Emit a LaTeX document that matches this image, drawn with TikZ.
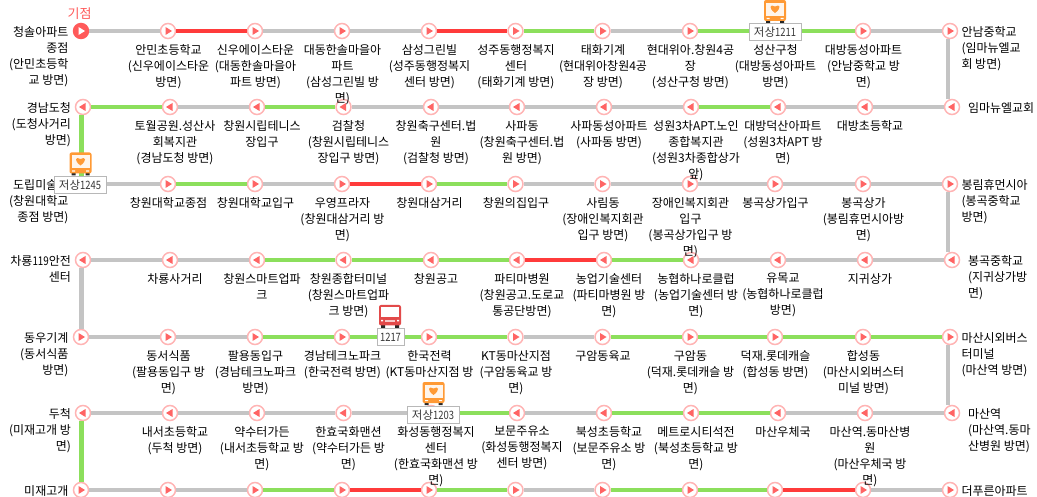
\documentclass[tikz,border=0pt]{standalone}
\usepackage{fontspec}
\setmainfont{Noto Sans CJK KR}
\newfontfamily\narrowdigits[FakeStretch=0.82]{Noto Sans CJK KR}
\definecolor{linegray}{HTML}{C4C4C4}
\definecolor{linered}{HTML}{FF3B3B}
\definecolor{linegreen}{HTML}{8CDF5C}
\definecolor{ringpink}{HTML}{FFB4B4}
\definecolor{tripink}{HTML}{FF6464}
\definecolor{startred}{HTML}{FF5A5A}
\definecolor{busorange}{HTML}{FF9A35}
\definecolor{busred}{HTML}{E24A4A}
\tikzset{
  stopbase/.style={circle,draw=ringpink,fill=white,line width=1.5pt,minimum size=15pt,inner sep=0pt},
  stopfwd/.style={stopbase,path picture={\fill[tripink] (path picture bounding box.center) ++(-2.5,-4) -- ++(0,8) -- ++(6.5,-4) -- cycle;}},
  stopback/.style={stopbase,path picture={\fill[tripink] (path picture bounding box.center) ++(2.5,-4) -- ++(0,8) -- ++(-6.5,-4) -- cycle;}},
  stopfirst/.style={circle,fill=startred,minimum size=16.5pt,inner sep=0pt,path picture={\fill[white] (path picture bounding box.center) ++(-2.5,-4) -- ++(0,8) -- ++(6.5,-4) -- cycle;}},
  seg/.style={line width=4.6pt},
  txt/.style={font=\fontsize{12pt}{16pt}\selectfont,inner sep=0pt,outer sep=0pt,text=black},
  lbl/.style={txt,align=center,anchor=north,yshift=-13.4pt,xshift=0.5pt},
  lble/.style={lbl,xshift=4.5pt},
  lblL/.style={txt,align=right,anchor=north east,yshift=4.6pt,xshift=-12.6pt},
  lblLe/.style={txt,align=right,anchor=north east,yshift=4.6pt,xshift=-12pt},
  lblR/.style={txt,align=left,anchor=north west,yshift=4.6pt,xshift=11.5pt},
  lblRe/.style={txt,align=left,anchor=north west,yshift=4.6pt,xshift=16pt},
  buslabel/.style={draw=black!28,fill=white,line width=1pt,inner sep=0pt,minimum height=17.5pt,text=black!78,font=\fontsize{11.5pt}{13pt}\selectfont},
  orangebus/.pic={
    \fill[black!85] (-9,20) rectangle (-5,23) (5,20) rectangle (9,23);
    \fill[busorange,rounded corners=2pt] (-11,0) rectangle (11,21);
    \fill[white!92!orange] (-9,3) rectangle (9,16);
    \fill[white] (-8.5,18) rectangle (-5.5,19.2) (5.5,18) rectangle (8.5,19.2);
    \fill[busorange] (0,13) .. controls (-7,8) and (-5,3.5) .. (0,6.5) .. controls (5,3.5) and (7,8) .. (0,13) -- cycle;
  },
  redbus/.pic={
    \fill[black!85] (-9,20) rectangle (-5,23) (5,20) rectangle (9,23);
    \fill[busred,rounded corners=2pt] (-11,0) rectangle (11,20.5);
    \fill[white] (-9,2.5) rectangle (9,12);
    \fill[white!70!busred] (-5,15.5) rectangle (5,16.7);
    \fill[white] (-9,15) rectangle (-7,16.5) (7,15) rectangle (9,16.5);
  },
}
\begin{document}
\begin{tikzpicture}[x=1pt,y=-1pt]
\useasboundingbox (0,0) rectangle (1037,497);
% stops
\node[stopfirst] (a1) at (81,31) {};
\foreach \i/\x in {2/168,3/255,4/342,5/429,6/515.5,7/602.5,8/690,9/775,10/863,11/950} \node[stopfwd] (a\i) at (\x,31) {};
\foreach \i/\x in {1/83,2/170,3/257,4/343.5,5/431,6/517,7/604,8/691,9/778,10/865,11/952} \node[stopback] (b\i) at (\x,107) {};
\foreach \i/\x in {1/81,2/168,3/255,4/342,5/429,6/515.5,7/602.5,8/690,9/775,10/863,11/950} \node[stopfwd] (c\i) at (\x,184) {};
\foreach \i/\x in {1/83,2/170,3/257,4/343.5,5/431,6/517,7/604,8/691,9/778,10/865,11/952} \node[stopback] (d\i) at (\x,260) {};
\foreach \i/\x in {1/81,2/168,3/255,4/342,5/429,6/515.5,7/602.5,8/690,9/775,10/863,11/950} \node[stopfwd] (e\i) at (\x,337) {};
\foreach \i/\x in {1/83,2/170,3/257,4/343.5,5/431,6/517,7/604,8/691,9/778,10/865,11/952} \node[stopback] (f\i) at (\x,413) {};
\foreach \i/\x in {1/81,2/168,3/255,4/342,5/429,6/515.5,7/602.5,8/690,9/775,10/863,11/950} \node[stopfwd] (g\i) at (\x,490) {};
% horizontal connectors
\foreach \p/\q/\c in {a1/a2/linegray,a2/a3/linered,a3/a4/linegray,a4/a5/linegray,a5/a6/linered,a6/a7/linegreen,a7/a8/linegray,a8/a9/linegreen,a9/a10/linegreen,a10/a11/linegray,%
 b11/b10/linegray,b10/b9/linegray,b9/b8/linegreen,b8/b7/linegray,b7/b6/linegray,b6/b5/linegray,b5/b4/linegray,b4/b3/linegreen,b3/b2/linegray,b2/b1/linegreen,%
 c1/c2/linegray,c2/c3/linegreen,c3/c4/linegray,c4/c5/linered,c5/c6/linegreen,c6/c7/linegray,c7/c8/linegray,c8/c9/linegray,c9/c10/linegray,c10/c11/linegray,%
 d11/d10/linegray,d10/d9/linegray,d9/d8/linegray,d8/d7/linegreen,d7/d6/linered,d6/d5/linegreen,d5/d4/linegreen,d4/d3/linegreen,d3/d2/linegray,d2/d1/linegray,%
 e1/e2/linegray,e2/e3/linegray,e3/e4/linegreen,e4/e5/linegreen,e5/e6/linegreen,e6/e7/linegray,e7/e8/linegreen,e8/e9/linegreen,e9/e10/linegreen,e10/e11/linegreen,%
 f11/f10/linegray,f10/f9/linegray,f9/f8/linegreen,f8/f7/linegreen,f7/f6/linegray,f6/f5/linegreen,f5/f4/linegray,f4/f3/linegray,f3/f2/linegray,f2/f1/linegray,%
 g1/g2/linegray,g2/g3/linegray,g3/g4/linegreen,g4/g5/linered,g5/g6/linegreen,g6/g7/linegray,g7/g8/linegreen,g8/g9/linegreen,g9/g10/linered,g10/g11/linegray} \draw[seg,draw=\c] (\p) -- (\q);
% vertical connectors
\draw[seg,draw=linegray] ([xshift=-2pt]a11.south) -- ([xshift=-4pt]b11.north);
\draw[seg,draw=linegreen] ([xshift=-1.5pt]b1.south) -- ([xshift=0.5pt]c1.north);
\draw[seg,draw=linegray] ([xshift=-2pt]c11.south) -- ([xshift=-4pt]d11.north);
\draw[seg,draw=linegray] ([xshift=-1.5pt]d1.south) -- ([xshift=0.5pt]e1.north);
\draw[seg,draw=linegray] ([xshift=-2pt]e11.south) -- ([xshift=-4pt]f11.north);
\draw[seg,draw=linegreen] ([xshift=-1.5pt]f1.south) -- ([xshift=0.5pt]g1.north);
% start
\node[text=startred,font=\fontsize{13pt}{15pt}\selectfont,inner sep=0pt] (startlabel) at (79.5,14) {기점};
% row 1 labels
\node[lblL] (la1) at (a1) {청솔아파트\\종점\\(안민초등학\\교 방면)};
\node[lbl] (la2) at (a2) {안민초등학교\\(신우에이스타운\\방면)};
\node[lbl] (la3) at (a3) {신우에이스타운\\(대동한솔마을아\\파트 방면)};
\node[lbl] (la4) at (a4) {대동한솔마을아\\파트\\(삼성그린빌 방\\면)};
\node[lbl] (la5) at (a5) {삼성그린빌\\(성주동행정복지\\센터 방면)};
\node[lbl] (la6) at (a6) {성주동행정복지\\센터\\(태화기계 방면)};
\node[lbl] (la7) at (a7) {태화기계\\(현대위아창원4공\\장 방면)};
\node[lbl] (la8) at (a8) {현대위아.창원4공\\장\\(성산구청 방면)};
\node[lbl] (la9) at (a9) {성산구청\\(대방동성아파트\\방면)};
\node[lbl] (la10) at (a10) {대방동성아파트\\(안남중학교 방\\면)};
\node[lblR] (la11) at (a11) {안남중학교\\(임마뉴엘교\\회 방면)};
% row 2 labels
\node[lblLe] (lb1) at (b1) {경남도청\\(도청사거리\\방면)};
\node[lble] (lb2) at (b2) {토월공원.성산사\\회복지관\\(경남도청 방면)};
\node[lble] (lb3) at (b3) {창원시립테니스\\장입구};
\node[lble] (lb4) at (b4) {검찰청\\(창원시립테니스\\장입구 방면)};
\node[lble] (lb5) at (b5) {창원축구센터.법\\원\\(검찰청 방면)};
\node[lble] (lb6) at (b6) {사파동\\(창원축구센터.법\\원 방면)};
\node[lble] (lb7) at (b7) {사파동성아파트\\(사파동 방면)};
\node[lble] (lb8) at (b8) {성원3차APT.노인\\종합복지관\\(성원3차종합상가\\앞)};
\node[lble] (lb9) at (b9) {대방덕산아파트\\(성원3차APT 방\\면)};
\node[lble] (lb10) at (b10) {대방초등학교};
\node[lblRe] (lb11) at (b11) {임마뉴엘교회};
% row 3 labels
\node[lblL] (lc1) at (c1) {도립미술관\\(창원대학교\\종점 방면)};
\node[lbl] (lc2) at (c2) {창원대학교종점};
\node[lbl] (lc3) at (c3) {창원대학교입구};
\node[lbl] (lc4) at (c4) {우영프라자\\(창원대삼거리 방\\면)};
\node[lbl] (lc5) at (c5) {창원대삼거리};
\node[lbl] (lc6) at (c6) {창원의집입구};
\node[lbl] (lc7) at (c7) {사림동\\(장애인복지회관\\입구 방면)};
\node[lbl] (lc8) at (c8) {장애인복지회관\\입구\\(봉곡상가입구 방\\면)};
\node[lbl] (lc9) at (c9) {봉곡상가입구};
\node[lbl] (lc10) at (c10) {봉곡상가\\(봉림휴먼시아방\\면)};
\node[lblR] (lc11) at (c11) {봉림휴먼시아\\(봉곡중학교\\방면)};
% row 4 labels
\node[lblLe] (ld1) at (d1) {차룡{\narrowdigits 119}안전\\센터};
\node[lble] (ld2) at (d2) {차룡사거리};
\node[lble] (ld3) at (d3) {창원스마트업파\\크};
\node[lble] (ld4) at (d4) {창원종합터미널\\(창원스마트업파\\크 방면)};
\node[lble] (ld5) at (d5) {창원공고};
\node[lble] (ld6) at (d6) {파티마병원\\(창원공고.도로교\\통공단방면)};
\node[lble] (ld7) at (d7) {농업기술센터\\(파티마병원 방\\면)};
\node[lble] (ld8) at (d8) {농협하나로클럽\\(농업기술센터 방\\면)};
\node[lble] (ld9) at (d9) {유목교\\(농협하나로클럽\\방면)};
\node[lble] (ld10) at (d10) {지귀상가};
\node[lblRe] (ld11) at (d11) {봉곡중학교\\(지귀상가방\\면)};
% row 5 labels
\node[lblL] (le1) at (e1) {동우기계\\(동서식품\\방면)};
\node[lbl] (le2) at (e2) {동서식품\\(팔용동입구 방\\면)};
\node[lbl] (le3) at (e3) {팔용동입구\\(경남테크노파크\\방면)};
\node[lbl] (le4) at (e4) {경남테크노파크\\(한국전력 방면)};
\node[lbl] (le5) at (e5) {한국전력\\(KT동마산지점 방};
\node[lbl] (le6) at (e6) {KT동마산지점\\(구암동육교 방\\면)};
\node[lbl] (le7) at (e7) {구암동육교};
\node[lbl] (le8) at (e8) {구암동\\(덕재.롯데캐슬 방\\면)};
\node[lbl] (le9) at (e9) {덕재.롯데캐슬\\(합성동 방면)};
\node[lbl] (le10) at (e10) {합성동\\(마산시외버스터\\미널 방면)};
\node[lblR] (le11) at (e11) {마산시외버스\\터미널\\(마산역 방면)};
% row 6 labels
\node[lblLe] (lf1) at (f1) {두척\\(미재고개 방\\면)};
\node[lble] (lf2) at (f2) {내서초등학교\\(두척 방면)};
\node[lble] (lf3) at (f3) {약수터가든\\(내서초등학교 방\\면)};
\node[lble] (lf4) at (f4) {한효국화맨션\\(약수터가든 방\\면)};
\node[lble] (lf5) at (f5) {화성동행정복지\\센터\\(한효국화맨션 방\\면)};
\node[lble] (lf6) at (f6) {보문주유소\\(화성동행정복지\\센터 방면)};
\node[lble] (lf7) at (f7) {북성초등학교\\(보문주유소 방\\면)};
\node[lble] (lf8) at (f8) {메트로시티석전\\(북성초등학교 방\\면)};
\node[lble] (lf9) at (f9) {마산우체국};
\node[lble] (lf10) at (f10) {마산역.동마산병\\원\\(마산우체국 방\\면)};
\node[lblRe] (lf11) at (f11) {마산역\\(마산역.동마\\산병원 방면)};
% row 7 labels
\node[lblL] (lg1) at (g1) {미재고개};
\node[lblR] (lg11) at (g11) {더푸른아파트};
% buses
\pic at (775,0) {orangebus};
\node[buslabel,minimum width=52pt] (bus1211) at (775,32) {저상{\narrowdigits 1211}};
\pic at (80.5,152.5) {orangebus};
\node[buslabel,minimum width=52pt] (bus1245) at (80,185) {저상{\narrowdigits 1245}};
\pic at (390,305) {redbus};
\node[buslabel,minimum width=27pt] (bus1217) at (390.5,337) {{\narrowdigits 1217}};
\pic at (433.5,382) {orangebus};
\node[buslabel,minimum width=52pt] (bus1203) at (433,415) {저상{\narrowdigits 1203}};
\end{tikzpicture}
\end{document}
